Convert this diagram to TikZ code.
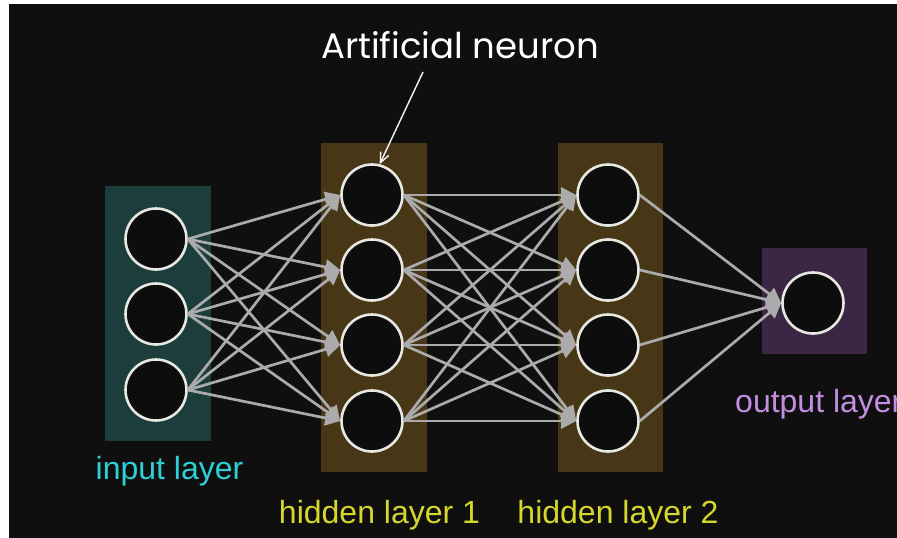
\documentclass[tikz,border=0pt]{standalone}
\usepackage{fontspec}
\setmainfont{Liberation Sans}
\newfontfamily\titlefont{Poppins}
\usetikzlibrary{arrows.meta}
\definecolor{bg}{HTML}{0F0F0F}
\definecolor{inbox}{HTML}{1C3D3C}
\definecolor{hidbox}{HTML}{483717}
\definecolor{outbox}{HTML}{3B2644}
\definecolor{edgegray}{HTML}{ABABAB}
\definecolor{ringcol}{HTML}{E8E8E2}
\definecolor{incol}{HTML}{2FCFD6}
\definecolor{hidcol}{HTML}{D6D62C}
\definecolor{outcol}{HTML}{C28EE2}
\begin{document}
\begin{tikzpicture}[x=1pt,y=-1pt,
  neuron/.style={circle,draw=ringcol,fill=black!95,line width=2.6pt,minimum size=61pt,inner sep=0pt},
  edge/.style={draw=edgegray,line width=2.7pt,-{Triangle[length=15pt,width=15pt]}},
  lbl/.style={font=\fontsize{32}{38}\selectfont,anchor=base,inner sep=0pt}]
\useasboundingbox (0,0) rectangle (897,538);
\fill[white] (0,0) rectangle (897,538);
\fill[bg] (9,4) rectangle (897,538);
% layer boxes
\fill[inbox] (105,186) rectangle (211,441);
\fill[hidbox] (321,143) rectangle (427,472);
\fill[hidbox] (558,143) rectangle (663,472);
\fill[outbox] (762,248) rectangle (867,354);
% neurons
\node[neuron] (i1) at (156,239) {};
\node[neuron] (i2) at (156,314) {};
\node[neuron] (i3) at (156,390) {};
\node[neuron] (a1) at (372,195) {};
\node[neuron] (a2) at (372,270) {};
\node[neuron] (a3) at (372,345) {};
\node[neuron] (a4) at (372,421) {};
\node[neuron] (b1) at (608,195) {};
\node[neuron] (b2) at (608,270) {};
\node[neuron] (b3) at (608,345) {};
\node[neuron] (b4) at (608,421) {};
\node[neuron] (o1) at (813,303) {};
% connections
\foreach \s in {i1,i2,i3}{\foreach \t in {a1,a2,a3,a4}{\draw[edge] (\s.east) -- (\t.west);}}
\foreach \s in {a1,a2,a3,a4}{\foreach \t in {b1,b2,b3,b4}{\draw[edge] (\s.east) -- (\t.west);}}
\foreach \s in {b1,b2,b3,b4}{\draw[edge] (\s.east) -- (o1.west);}
% labels
\node[lbl,text=incol] (lin) at (169.5,479) {input layer};
\node[lbl,text=hidcol] (lh1) at (379.5,523) {hidden layer 1};
\node[lbl,text=hidcol] (lh2) at (618,523) {hidden layer 2};
\begin{scope}
\clip (0,0) rectangle (897,538);
\node[lbl,text=outcol,anchor=base west] (lout) at (735,412) {output layer};
\end{scope}
\node[lbl,text=white,font=\titlefont\fontsize{35.5}{42}\selectfont] (title) at (460,58) {Artificial neuron};
\coordinate (tip) at (423,72);
\draw[white!92!gray,line width=1.4pt,-{Straight Barb[length=10pt,width=9pt]}] (tip) -- (a1.76);
\end{tikzpicture}
\end{document}
